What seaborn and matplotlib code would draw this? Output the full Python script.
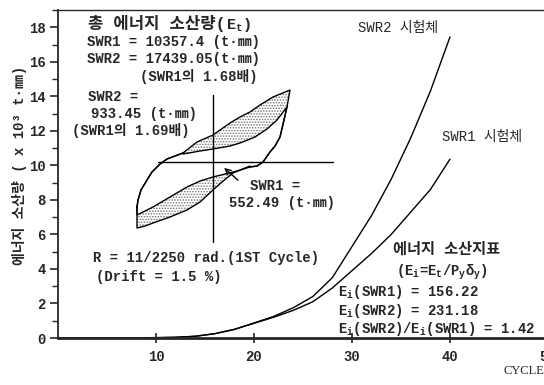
import matplotlib
matplotlib.use("Agg")
import matplotlib.pyplot as plt
import pandas as pd
import seaborn as sns
from matplotlib.ticker import MultipleLocator

# cumulative dissipated energy (x10^3 t*mm) per loading cycle
cycles = [0, 10, 12, 14, 16, 18, 20, 22, 24, 26, 28, 30, 32, 34, 36, 38, 40]
swr1_energy = [0, 0.02, 0.04, 0.1, 0.25, 0.5, 0.85, 1.2, 1.6, 2.1, 2.9, 3.9, 4.9, 6.0, 7.3, 8.6, 10.36]
swr2_energy = [0, 0.02, 0.04, 0.1, 0.25, 0.5, 0.87, 1.25, 1.75, 2.4, 3.5, 5.3, 7.1, 9.2, 11.6, 14.3, 17.44]

# first-cycle hysteresis loops: drift (%) vs load (t)
rise_drift = [-1.52, -1.50, -1.44, -1.32, -1.22, -1.06, -0.92, -0.76, -0.60]
rise_load = [-22.5, -19, -14, -9, -5, -1, 1.5, 3, 4.5]
upper_outer_drift = [-0.60, -0.32, 0, 0.34, 0.54, 0.74, 0.94, 1.20, 1.54]
upper_outer_load = [4.5, 10, 13.5, 19.5, 22.5, 25, 28.5, 32.5, 36]
upper_inner_drift = [-0.60, -0.26, 0, 0.34, 0.54, 0.84, 1.08, 1.28, 1.48]
upper_inner_load = [4, 5.5, 6.5, 8, 9.5, 12.5, 16.5, 21, 27.5]
fall_drift = [1.48, 1.42, 1.34, 1.24, 1.14, 1.0, 0.88, 0.74]
fall_load = [27.5, 21, 12.5, 8, 5, 0, -2, -2.5]
lower_inner_drift = [0.74, 0.48, 0.24, 0, -0.26, -0.52, -0.86, -1.2, -1.36, -1.52]
lower_inner_load = [-2.5, -4.5, -6, -7.5, -9.5, -12.5, -17.5, -22.5, -24.5, -26.5]
lower_outer_drift = [0.74, 0.40, 0.18, 0, -0.26, -0.52, -0.86, -1.2, -1.36, -1.52]
lower_outer_load = [-2, -5.5, -10, -14, -20, -24, -27.5, -30.5, -32, -33]

x_ticks = [10, 20, 30, 40, 50]
y_ticks = [0, 2, 4, 6, 8, 10, 12, 14, 16, 18]

sns.set_style("ticks")
MONO = ["Liberation Mono", "Noto Sans CJK KR"]
plt.rcParams["font.family"] = MONO
plt.rcParams["font.weight"] = "bold"
plt.rcParams["mathtext.default"] = "regular"
plt.rcParams["hatch.linewidth"] = 0.7
plt.rcParams["axes.linewidth"] = 1.3

W, H = 544, 385
fig = plt.figure(figsize=(W / 100, H / 100), dpi=100)
ax = fig.add_axes([58 / W, 47 / H, 490 / W, 328 / H])

df = pd.DataFrame({
    "cycle": cycles * 2,
    "energy": swr1_energy + swr2_energy,
    "specimen": ["SWR1"] * len(cycles) + ["SWR2"] * len(cycles),
})
sns.lineplot(data=df, x="cycle", y="energy", hue="specimen",
             palette=["black", "black"], legend=False, ax=ax, lw=1.0)

ax.set_xlim(0, 50)
ax.set_ylim(0, 19)
ax.set_xticks(x_ticks)
ax.set_yticks(y_ticks)
ax.yaxis.set_minor_locator(MultipleLocator(1))
ax.set_xlabel("")
ax.set_ylabel("")
ax.spines["right"].set_visible(False)
ax.spines["bottom"].set_linewidth(2.0)
ax.spines["top"].set_linewidth(1.0)
ax.tick_params(axis="y", which="major", direction="out", length=6, width=1.2,
               labelsize=10, pad=3)
ax.tick_params(axis="y", which="minor", direction="out", length=4, width=1.0)
ax.tick_params(axis="x", which="major", direction="inout", length=7, width=1.2,
               labelsize=10, pad=5)
for lab in ax.get_xticklabels() + ax.get_yticklabels():
    lab.set_fontweight("bold")

# hysteresis loop sketch in drift/load units
ins = fig.add_axes([0, 0, 1, 1])
ins.set_xlim(-213 / 50, (W - 213) / 50)
ins.set_ylim((162 - H) / 2, 162 / 2)
ins.axis("off")
ins.patch.set_alpha(0)

upper_band_x = upper_outer_drift + upper_inner_drift[::-1]
upper_band_y = upper_outer_load + upper_inner_load[::-1]
lower_band_x = lower_inner_drift + lower_outer_drift[::-1]
lower_band_y = lower_inner_load + lower_outer_load[::-1]
for bx, by in [(upper_band_x, upper_band_y), (lower_band_x, lower_band_y)]:
    ins.fill(bx, by, facecolor="white", edgecolor="#707070", hatch="......", lw=0)

outer_x = rise_drift + upper_outer_drift + fall_drift + lower_outer_drift + rise_drift[:1]
outer_y = rise_load + upper_outer_load + fall_load + lower_outer_load + rise_load[:1]
inner_x = rise_drift + upper_inner_drift + fall_drift + lower_inner_drift + rise_drift[:1]
inner_y = rise_load + upper_inner_load + fall_load + lower_inner_load + rise_load[:1]
ins.plot(outer_x, outer_y, color="black", lw=1.0)
ins.plot(inner_x, inner_y, color="black", lw=1.0)
ins.plot([-1.1, 2.4], [0, 0], color="black", lw=1.0)
ins.plot([0, 0], [-40, 33.5], color="black", lw=1.0)
ins.annotate("", xy=(0.18, -2), xytext=(0.54, -10),
             arrowprops=dict(arrowstyle="->", lw=1.0, color="black"))


def label(x, y, s, size=10, **kw):
    return fig.text(x / W, 1 - y / H, s, fontsize=size, ha="left", va="center", **kw)


def label_run(x, y, pieces):
    r = fig.canvas.get_renderer()
    cx = x
    for s, size in pieces:
        t = fig.text(cx / W, 1 - y / H, s, fontsize=size, ha="left", va="baseline")
        cx += t.get_window_extent(r).width


label_run(88, 29, [("총 에너지 소산량(", 12), ("E$_t$)", 11)])
label(87, 42, "SWR1 = 10357.4 (t·㎜)")
label(87, 59, "SWR2 = 17439.05(t·㎜)")
label(140, 77, "(SWR1의 1.68배)")
label(88, 97, "SWR2 =")
label(91, 114, "933.45 (t·㎜)")
label(72, 131, "(SWR1의 1.69배)")
label(250, 186, "SWR1 =")
label(229, 203, "552.49 (t·㎜)")
label(93, 258, "R = 11/2250 rad.(1ST Cycle)")
label(96, 277, "(Drift = 1.5 %)")
label(358, 28, "SWR2 시험체", weight="normal")
label(442, 137, "SWR1 시험체", weight="normal")
label(393, 250, "에너지 소산지표", size=11)
label(396, 272, "(E$_i$=E$_t$/P$_y$δ$_y$)")
label(338, 292, "E$_i$(SWR1) = 156.22")
label(338, 311, "E$_i$(SWR2) = 231.18")
label(338, 329, "E$_i$(SWR2)/E$_i$(SWR1) = 1.42")

fig.text(20 / W, 1 - 165 / H, "에너지 소산량 ( x 10³ t·㎜)", rotation=90,
         ha="center", va="center", fontsize=10)
fig.text(544 / W, 1 - 371 / H, "CYCLE", ha="right", va="center", fontsize=9,
         family="Liberation Serif", weight="normal")

fig.savefig("out.png", dpi=100)
